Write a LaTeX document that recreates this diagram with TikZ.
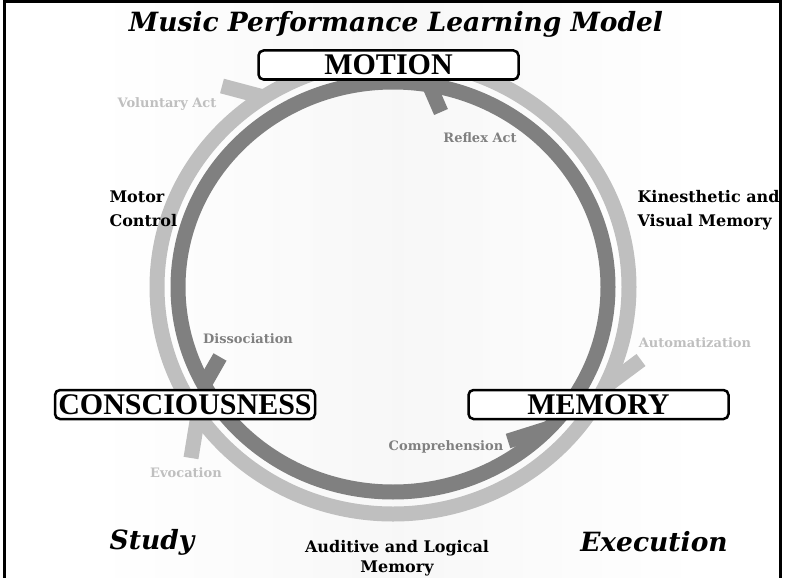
\documentclass[tikz,border=0pt]{standalone}
\usepackage{fontspec}
\setmainfont{DejaVu Serif}
\newfontfamily\boxfont{Liberation Serif}
\usetikzlibrary{positioning, calc}

\definecolor{ringlight}{gray}{0.75}
\definecolor{ringdark}{gray}{0.5}

\begin{document}
\begin{tikzpicture}[x=1pt, y=-1pt,
    lightring/.style={line width=15pt, color=ringlight},
    darkring/.style={line width=15pt, color=ringdark},
    stagebox/.style={draw, line width=2.5pt, rounded corners=5pt, fill=white,
        minimum width=260pt, minimum height=29pt, inner sep=0pt,
        font=\boxfont\bfseries\fontsize{30}{30}\selectfont},
    lightlabel/.style={text=ringlight, font=\bfseries\fontsize{13}{15}\selectfont},
    darklabel/.style={text=ringdark, font=\bfseries\fontsize{13}{15}\selectfont},
    memlabel/.style={align=left, font=\bfseries\fontsize{16}{23.5}\selectfont},
    phase/.style={font=\bfseries\itshape\fontsize{26.5}{30}\selectfont}]
    \useasboundingbox (0,0) rectangle (787,578);

    % Background and frame
    \shade[left color=white, right color=white, middle color=black!3] (95,3) rectangle (700,578);
    \draw[line width=3pt] (4.5,2) rectangle (780.5,580);

    % Rings
    \coordinate (ctr) at (393,287);
    \draw[lightring] (ctr) ellipse [x radius=236, y radius=227];
    \draw[darkring] (ctr) ellipse [x radius=215, y radius=205];

    % Barbs, light ring (clockwise)
    \coordinate (voltip) at ($(ctr)+(236.8:236 and 227)$);
    \coordinate (volend) at (222,86);
    \draw[lightring] (voltip) -- (volend);
    \coordinate (auttip) at ($(ctr)+(26.1:236 and 227)$);
    \coordinate (autend) at (641,360);
    \draw[lightring] (auttip) -- (autend);
    \coordinate (evotip) at ($(ctr)+(145.7:236 and 227)$);
    \coordinate (evoend) at (191,458);
    \draw[lightring] (evotip) -- (evoend);

    % Barbs, dark ring (counterclockwise)
    \coordinate (reftip) at ($(ctr)+(279.7:215 and 205)$);
    \coordinate (refend) at (441,112);
    \draw[darkring] (reftip) -- (refend);
    \coordinate (distip) at ($(ctr)+(151.5:215 and 205)$);
    \coordinate (disend) at (220,357);
    \draw[darkring] (distip) -- (disend);
    \coordinate (comtip) at ($(ctr)+(43.5:215 and 205)$);
    \coordinate (comend) at (508,441);
    \draw[darkring] (comtip) -- (comend);

    % Stages
    \node[stagebox] (motion) at (388.5,65) {MOTION};
    \node[stagebox] (conscious) at (185,404.5) {CONSCIOUSNESS};
    \node[stagebox] (memory) at (598.5,404.5) {MEMORY};

    % Labels
    \node[phase] (title) at (396,24) {Music Performance Learning Model};
    \node[lightlabel] (voluntary) at (167,104) {Voluntary Act};
    \node[darklabel] (reflex) at (480,138) {Reflex Act};
    \node[memlabel, anchor=west] (motor) at (106,209) {Motor\\Control};
    \node[memlabel, anchor=west] (kinvis) at (634,210) {Kinesthetic and\\Visual Memory};
    \node[darklabel] (dissoc) at (248,339) {Dissociation};
    \node[lightlabel] (automat) at (695,343) {Automatization};
    \node[darklabel] (compreh) at (446,447) {Comprehension};
    \node[lightlabel] (evoc) at (186,473) {Evocation};
    \node[memlabel, align=center, font=\bfseries\fontsize{16}{20.5}\selectfont] (auditive) at (397,558) {Auditive and Logical\\Memory};
    \node[phase] (study) at (152,542) {Study};
    \node[phase] (execution) at (654,542) {Execution};
\end{tikzpicture}
\end{document}
